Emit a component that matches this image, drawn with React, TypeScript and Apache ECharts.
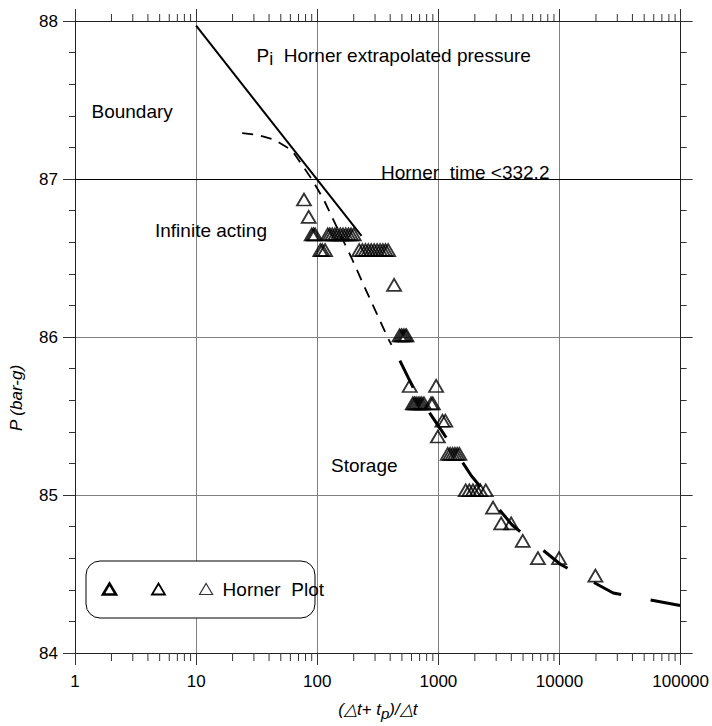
import React, { useEffect, useRef } from "react";
import * as echarts from "echarts";

// ---- Data ----
const xTickLabels = ["1", "10", "100", "1000", "10000", "100000"];
const yTickLabels = ["84", "85", "86", "87", "88"];

// Horner plot points: (Δt+tp)/Δt and pressure (bar-g)
const hornerTime = [
  77.7,
  85,
  90, 93, 96, 122, 127, 133, 140, 147, 155, 163, 172, 181, 190, 200,
  106, 110, 116, 222, 236, 250, 264, 279, 295, 312, 330, 348, 366, 385,
  431,
  478, 495, 512, 530, 545,
  580, 958,
  615, 635, 655, 680, 705, 730, 760, 870, 900,
  1080, 1140,
  990,
  1195, 1250, 1310, 1370, 1430, 1490,
  1680, 1800, 1930, 2070, 2220, 2460,
  2825,
  3300, 3990,
  4970,
  6635, 9910,
  19780,
];
const hornerPressure = [
  86.87,
  86.76,
  86.65, 86.65, 86.65, 86.65, 86.65, 86.65, 86.65, 86.65, 86.65, 86.65, 86.65, 86.65, 86.65, 86.65,
  86.55, 86.55, 86.55, 86.55, 86.55, 86.55, 86.55, 86.55, 86.55, 86.55, 86.55, 86.55, 86.55, 86.55,
  86.33,
  86.01, 86.01, 86.01, 86.01, 86.01,
  85.69, 85.69,
  85.58, 85.58, 85.58, 85.58, 85.58, 85.58, 85.58, 85.58, 85.58,
  85.47, 85.47,
  85.37,
  85.26, 85.26, 85.26, 85.26, 85.26, 85.26,
  85.03, 85.03, 85.03, 85.03, 85.03, 85.03,
  84.92,
  84.82, 84.82,
  84.71,
  84.6, 84.6,
  84.49,
];

// Straight Horner line (solid)
const straightTime = [10, 232];
const straightPressure = [87.97, 86.64];

// Model curve, early part (short dashes)
const earlyTime = [24, 32, 44, 62, 90, 113, 192, 248, 385, 410];
const earlyPressure = [87.29, 87.28, 87.25, 87.18, 87.0, 86.87, 86.5, 86.31, 85.99, 85.95];

// Model curve, late part (long dashes)
const lateTime = [481, 637, 846, 1122, 1877, 4063, 10230, 27750, 100000];
const latePressure = [85.85, 85.66, 85.52, 85.38, 85.12, 84.81, 84.56, 84.38, 84.3];

const FONT = "'Liberation Sans', Arial, sans-serif";

const decades = [1, 10, 100, 1000, 10000];
const minorMultipliers = [2, 3, 4, 5, 6, 7, 8, 9];
const minorTickValues: number[] = [];
decades.forEach((d) => minorMultipliers.forEach((m) => minorTickValues.push(d * m)));

const pairs = (xs: number[], ys: number[]) => xs.map((x, i) => [x, ys[i]]);

export default function App() {
  const ref = useRef<HTMLDivElement>(null);

  useEffect(() => {
    if (!ref.current) return;
    const chart = echarts.init(ref.current, undefined, { renderer: "svg" });

    const axisLineStyle = { color: "#222", width: 1 };
    const tickStyle = { color: "#333", width: 1 };

    const option: any = {
      animation: false,
      backgroundColor: "#fff",
      textStyle: { fontFamily: FONT },
      grid: { left: 74, right: 27, top: 21, bottom: 61, containLabel: false },
      xAxis: [
        {
          type: "log",
          logBase: 10,
          min: 1,
          max: 100000,
          interval: 1,
          position: "bottom",
          axisLine: { show: true, lineStyle: axisLineStyle },
          axisTick: { show: true, inside: false, length: 12, lineStyle: tickStyle },
          axisLabel: {
            color: "#000",
            fontSize: 17,
            fontFamily: FONT,
            margin: 20,
            formatter: (v: number) => xTickLabels[Math.round(Math.log10(v))],
          },
          splitLine: { show: true, lineStyle: { color: "#808080", width: 1 } },
          name: "{a|(△t+ t}{s|p}{a|)/△t}",
          nameLocation: "middle",
          nameGap: 45,
          nameTextStyle: {
            rich: {
              a: { fontSize: 17, fontStyle: "italic", fontFamily: FONT, color: "#000" },
              s: { fontSize: 15, fontStyle: "italic", fontFamily: FONT, color: "#000", padding: [8, 0, 0, 0] },
            },
          },
        },
        {
          type: "log",
          logBase: 10,
          min: 1,
          max: 100000,
          interval: 1,
          position: "top",
          axisLine: { show: true, lineStyle: axisLineStyle },
          axisTick: { show: true, inside: false, length: 12, lineStyle: tickStyle },
          axisLabel: { show: false },
          splitLine: { show: false },
        },
      ],
      yAxis: [
        {
          type: "value",
          min: 84,
          max: 88,
          interval: 1,
          position: "left",
          axisLine: { show: true, lineStyle: axisLineStyle },
          axisTick: { show: true, inside: false, length: 12, lineStyle: tickStyle },
          minorTick: { show: true, splitNumber: 5, length: 6, lineStyle: tickStyle },
          axisLabel: {
            color: "#000",
            fontSize: 17,
            fontFamily: FONT,
            margin: 17,
            formatter: (v: number) => yTickLabels[Math.round(v - 84)],
          },
          splitLine: { show: true, lineStyle: { color: "#808080", width: 1 } },
          name: "P (bar-g)",
          nameLocation: "middle",
          nameGap: 50,
          nameTextStyle: {
            fontSize: 17,
            fontStyle: "italic",
            fontFamily: FONT,
            color: "#000",
            padding: [0, 122, 0, 0],
          },
        },
        {
          type: "value",
          min: 84,
          max: 88,
          interval: 1,
          position: "right",
          axisLine: { show: true, lineStyle: axisLineStyle },
          axisTick: { show: true, inside: false, length: 12, lineStyle: tickStyle },
          minorTick: { show: true, splitNumber: 5, length: 6, lineStyle: tickStyle },
          axisLabel: { show: false },
          splitLine: { show: false },
        },
      ],
      legend: {
        data: [{ name: "Horner  Plot", icon: "triangle" }],
        left: 199,
        top: 578,
        padding: 0,
        itemWidth: 13,
        itemHeight: 11,
        selectedMode: false,
        z: 20,
        itemStyle: { color: "rgba(0,0,0,0)", borderColor: "#000", borderWidth: 1.2 },
        textStyle: { fontSize: 19, lineHeight: 22, color: "#000", fontFamily: FONT, padding: [0, 0, 0, 5] },
      },
      graphic: [
        {
          type: "rect",
          z: 10,
          shape: { x: 86, y: 561, width: 229, height: 57, r: 14 },
          style: { fill: "#fff", stroke: "#000", lineWidth: 1 },
        },
        {
          type: "polygon",
          z: 11,
          shape: { points: [[103, 594.5], [109.5, 583.5], [116, 594.5]] },
          style: { fill: "none", stroke: "#000", lineWidth: 2.6 },
        },
        {
          type: "polygon",
          z: 11,
          shape: { points: [[152, 594.5], [158.5, 583.5], [165, 594.5]] },
          style: { fill: "none", stroke: "#000", lineWidth: 1.8 },
        },
        {
          type: "text",
          z: 11,
          style: {
            x: 256.5,
            y: 55,
            text: "{p|P}{s|i}{p|  Horner extrapolated pressure}",
            verticalAlign: "middle",
            fill: "#000",
            rich: {
              p: { fontSize: 19, fontFamily: FONT, fill: "#000" },
              s: { fontSize: 18, fontFamily: FONT, fill: "#000", padding: [7, 0, 0, 0] },
            },
          },
        },
        {
          type: "text",
          z: 11,
          style: { x: 91.5, y: 111.5, text: "Boundary", fontSize: 19, fontFamily: FONT, fill: "#000", verticalAlign: "middle" },
        },
        {
          type: "text",
          z: 11,
          style: { x: 155, y: 230.5, text: "Infinite acting", fontSize: 19, fontFamily: FONT, fill: "#000", verticalAlign: "middle" },
        },
        {
          type: "text",
          z: 11,
          style: { x: 381, y: 172.5, text: "Horner  time <332.2", fontSize: 19, fontFamily: FONT, fill: "#000", verticalAlign: "middle" },
        },
        {
          type: "text",
          z: 11,
          style: { x: 331, y: 465, text: "Storage", fontSize: 19, fontFamily: FONT, fill: "#000", verticalAlign: "middle" },
        },
      ],
      series: [
        {
          type: "custom",
          name: "minor-ticks",
          xAxisIndex: 0,
          yAxisIndex: 0,
          clip: false,
          silent: true,
          z: 3,
          data: minorTickValues.map((v) => [v, 84]),
          renderItem: (_params: any, api: any) => {
            const x = api.value(0);
            const b = api.coord([x, 84]);
            const t = api.coord([x, 88]);
            return {
              type: "group",
              children: [
                { type: "line", shape: { x1: b[0], y1: b[1], x2: b[0], y2: b[1] + 8 }, style: { stroke: "#333", lineWidth: 1 } },
                { type: "line", shape: { x1: t[0], y1: t[1], x2: t[0], y2: t[1] - 7 }, style: { stroke: "#333", lineWidth: 1 } },
              ],
            };
          },
        },
        {
          type: "line",
          name: "Horner straight line",
          data: pairs(straightTime, straightPressure),
          showSymbol: false,
          symbol: "none",
          lineStyle: { color: "#000", width: 2, type: "solid" },
          z: 5,
          markLine: {
            silent: true,
            symbol: ["none", "none"],
            label: { show: false },
            lineStyle: { color: "#000", width: 1, type: "solid" },
            data: [{ yAxis: 87 }],
            z: 1,
          },
        },
        {
          type: "line",
          name: "Model early",
          data: pairs(earlyTime, earlyPressure),
          showSymbol: false,
          symbol: "none",
          lineStyle: { color: "#000", width: 1.8, type: [11, 8] },
          z: 5,
        },
        {
          type: "line",
          name: "Model late",
          data: pairs(lateTime, latePressure),
          showSymbol: false,
          symbol: "none",
          lineStyle: { color: "#000", width: 3, type: [30, 30] },
          z: 5,
        },
        {
          type: "scatter",
          name: "Horner  Plot",
          data: pairs(hornerTime, hornerPressure),
          symbol: "triangle",
          symbolSize: [14, 12],
          itemStyle: { color: "rgba(0,0,0,0)", borderColor: "#000", borderWidth: 1.8 },
          z: 6,
        },
      ],
    };

    chart.setOption(option);
    return () => chart.dispose();
  }, []);

  return (
    <div
      ref={ref}
      style={{ position: "absolute", left: 0, top: 0, width: 712, height: 726, background: "#fff" }}
    />
  );
}
